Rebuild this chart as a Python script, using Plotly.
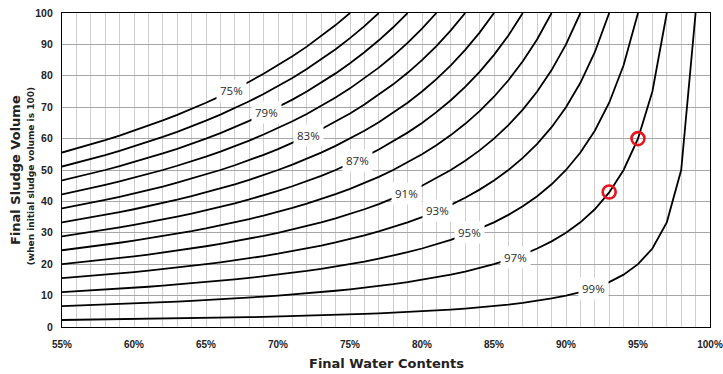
import plotly.graph_objects as go

# Initial water content of each curve (%)
initial_water = [75, 77, 79, 81, 83, 85, 87, 89, 91, 93, 95, 97, 99]
# Final water content sampled every 1 % (x axis)
final_water = list(range(55, 100))
# Curves that carry an inline label, with the final water content where the label sits
label_initial = [75, 79, 83, 87, 91, 93, 95, 97, 99]
label_final = [66.8, 69.2, 72.1, 75.5, 78.9, 81.1, 83.3, 86.5, 91.9]
# Highlighted example points
mark_x = [95, 93]
mark_y = [60, 43]

x_ticks = [55, 60, 65, 70, 75, 80, 85, 90, 95, 100]
y_ticks = [0, 10, 20, 30, 40, 50, 60, 70, 80, 90, 100]


def sludge_volume(w0, w):
    # dry solids are conserved: V * (100 - w) = 100 * (100 - w0)
    return 100.0 * (100 - w0) / (100 - w)


fig = go.Figure()

for w0 in initial_water:
    xs = [w for w in final_water if w <= w0]
    ys = [sludge_volume(w0, w) for w in xs]
    fig.add_trace(go.Scatter(
        x=xs, y=ys, mode="lines",
        line=dict(color="black", width=1.8),
        hoverinfo="skip", showlegend=False,
    ))

fig.add_trace(go.Scatter(
    x=mark_x, y=mark_y, mode="markers",
    marker=dict(size=13, color="rgba(0,0,0,0)",
                line=dict(color="#e8141c", width=2.6)),
    showlegend=False, hoverinfo="skip",
))

annotations = []
for w0, xw in zip(label_initial, label_final):
    annotations.append(dict(
        x=xw, y=sludge_volume(w0, xw), xref="x", yref="y",
        text=f"{w0}%", showarrow=False,
        font=dict(family="Open Sans", size=11.5, color="#2b2b2b"),
        bgcolor="white", borderpad=3,
    ))

tick_font_x = dict(family="Liberation Sans", size=10, color="#222222")
tick_font_y = dict(family="Liberation Sans", size=10.5, color="#222222")

annotations += [
    dict(text="<b>Final Sludge Volume</b>", textangle=-90,
         xref="paper", yref="paper", x=0, y=0.5, xshift=-47,
         xanchor="center", yanchor="middle", showarrow=False,
         font=dict(family="DejaVu Sans", size=13, color="#222222")),
    dict(text="<b>(when initial sludge volume is 100)</b>", textangle=-90,
         xref="paper", yref="paper", x=0, y=0.48, xshift=-31,
         xanchor="center", yanchor="middle", showarrow=False,
         font=dict(family="DejaVu Sans", size=9, color="#222222")),
    dict(text="<b>Final Water Contents</b>",
         xref="paper", yref="paper", x=0.5, y=0, yshift=-36,
         xanchor="center", yanchor="middle", showarrow=False,
         font=dict(family="DejaVu Sans", size=13, color="#222222")),
]

fig.update_layout(
    width=723, height=374,
    margin=dict(l=62, r=13, t=13, b=47),
    paper_bgcolor="white", plot_bgcolor="white",
    annotations=annotations,
)

fig.update_xaxes(
    range=[55, 100], tickvals=x_ticks,
    ticktext=[f"<b>{v}%</b>" for v in x_ticks],
    tickfont=tick_font_x,
    ticks="", ticklen=0, ticklabelstandoff=8,
    ticklabeloverflow="allow", automargin=False,
    showgrid=True, gridcolor="#cfcfcf", gridwidth=1,
    minor=dict(dtick=1, tick0=55, showgrid=True, gridcolor="#cfcfcf", gridwidth=1),
    showline=True, linecolor="black", linewidth=1.2, mirror=True,
    zeroline=False, fixedrange=True,
)
fig.update_yaxes(
    range=[0, 100], tickvals=y_ticks,
    ticktext=[f"<b>{v}</b>" for v in y_ticks],
    tickfont=tick_font_y, ticks="", ticklen=0, ticklabelstandoff=6,
    automargin=False,
    showgrid=True, gridcolor="#a6a6a6", gridwidth=1,
    showline=True, linecolor="black", linewidth=1.2, mirror=True,
    zeroline=False, fixedrange=True,
)

fig.write_html("out.html")
